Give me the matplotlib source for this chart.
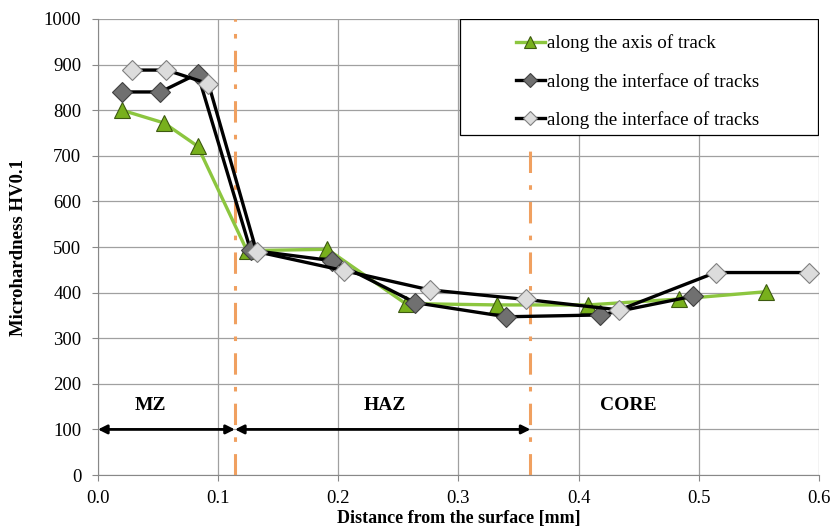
import matplotlib
matplotlib.use("Agg")
import matplotlib.pyplot as plt
from matplotlib.patches import Rectangle

# series
axis_x = [0.020, 0.055, 0.083, 0.124, 0.191, 0.256, 0.332, 0.408, 0.484, 0.556]
axis_y = [800, 772, 721, 492, 495, 376, 373, 373, 386, 402]

iface1_x = [0.020, 0.052, 0.083, 0.127, 0.195, 0.264, 0.340, 0.418, 0.495]
iface1_y = [840, 840, 880, 493, 470, 378, 347, 351, 392]

iface2_x = [0.028, 0.057, 0.092, 0.132, 0.205, 0.276, 0.356, 0.434, 0.514, 0.592]
iface2_y = [888, 888, 858, 490, 448, 406, 385, 362, 444, 444]

zone_bounds = [0.0, 0.114, 0.360]
zone_names = ["MZ", "HAZ", "CORE"]
zone_label_x = [0.044, 0.239, 0.441]

plt.rcParams['font.family'] = ['Liberation Serif', 'DejaVu Serif']

fig = plt.figure(figsize=(8.33, 5.32), dpi=100)
ax = fig.add_axes([0.1176, 0.1071, 0.8654, 0.8572])

green = '#8cc63f'
ax.plot(axis_x, axis_y, color=green, lw=2.4, marker='^', ms=12,
        mfc='#78b01c', mec='#3d5a10', mew=0.8, label='along the axis of track', zorder=3)
ax.plot(iface1_x, iface1_y, color='black', lw=2.4, marker='D', ms=10,
        mfc='#707070', mec='#404040', mew=0.8, label='along the interface of tracks', zorder=4)
ax.plot(iface2_x, iface2_y, color='black', lw=2.4, marker='D', ms=10,
        mfc='#dcdcdc', mec='#808080', mew=0.8, label='along the interface of tracks', zorder=5)

# zone boundaries
orange = '#f0a060'
ax.plot([zone_bounds[1]] * 2, [0, 1000], color=orange, lw=2.2, ls=(0, (7, 4, 1.5, 4)), zorder=2)
ax.plot([zone_bounds[2]] * 2, [0, 710], color=orange, lw=2.2, ls=(0, (7, 4, 1.5, 4)), zorder=2)

# arrows for zones
for a, b in [(zone_bounds[0], zone_bounds[1]), (zone_bounds[1], zone_bounds[2])]:
    ax.annotate('', xy=(a, 100), xytext=(b, 100),
                arrowprops=dict(arrowstyle='<|-|>', color='black', lw=2,
                                mutation_scale=13, shrinkA=0, shrinkB=0))
for name, lx in zip(zone_names, zone_label_x):
    ax.text(lx, 152, name, ha='center', va='center', fontsize=14, fontweight='bold')

ax.set_xlim(0, 0.6)
ax.set_ylim(0, 1000)
ax.set_xticks([0.0, 0.1, 0.2, 0.3, 0.4, 0.5, 0.6])
ax.set_xticklabels(['0.0', '0.1', '0.2', '0.3', '0.4', '0.5', '0.6'])
ax.set_yticks(range(0, 1001, 100))
ax.tick_params(labelsize=13.5, length=4, color='#888888')
ax.tick_params(axis='x', pad=7)
ax.tick_params(axis='y', pad=8)
ax.grid(True, color='#a0a0a0', lw=0.9)
ax.set_axisbelow(True)
for s in ['top', 'right']:
    ax.spines[s].set_visible(False)
for s in ['left', 'bottom']:
    ax.spines[s].set_color('#888888')

ax.set_xlabel('Distance from the surface [mm]', fontsize=13, fontweight='bold', labelpad=2)
ax.set_ylabel('Microhardness HV0.1', fontsize=13.5, fontweight='bold', labelpad=12)

# legend box drawn separately, it is much wider than its contents
ax.add_patch(Rectangle((0.502, 0.745), 0.497, 0.254, transform=ax.transAxes,
                       facecolor='white', edgecolor='black', lw=0.9, zorder=6))
leg = ax.legend(loc='upper left', bbox_to_anchor=(0.58, 0.966), fontsize=13.7, frameon=False,
                handlelength=1.5, handletextpad=0.1, labelspacing=1.07, borderpad=0,
                markerscale=0.7, borderaxespad=0)
leg.set_zorder(7)

fig.savefig('out.png', dpi=100)
